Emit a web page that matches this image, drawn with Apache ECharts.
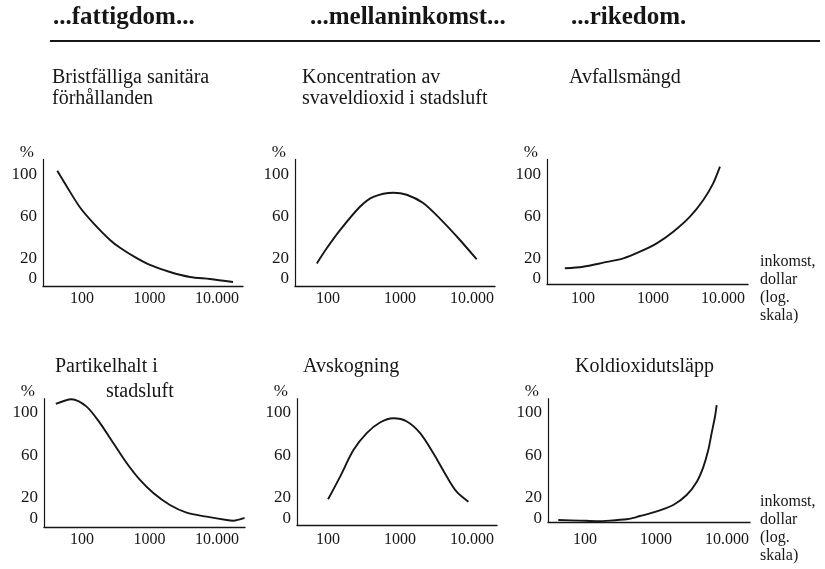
<!DOCTYPE html>
<html><head><meta charset="utf-8">
<script src="https://cdn.jsdelivr.net/npm/echarts@6/dist/echarts.min.js"></script>
<style>html,body{margin:0;padding:0;background:#fff}#c{width:825px;height:569px}</style>
</head><body><div id="c"></div>
<script>
// ---- text ----
const headers = ['...fattigdom...', '...mellaninkomst...', '...rikedom.'];
const panelTitles = ['Bristfälliga sanitära\nförhållanden', 'Koncentration av\nsvaveldioxid i stadsluft', 'Avfallsmängd', 'Partikelhalt i', 'Avskogning', 'Koldioxidutsläpp'];
const panelTitleExtra = 'stadsluft';
const axisNote = 'inkomst,\ndollar\n(log.\nskala)';
const yTickValues = [0, 20, 60, 100];
const xTickLabels = {100: '100', 1000: '1000', 10000: '10.000'};
const yAxisName = '%';

// ---- data (income in dollars, log scale; share in %) ----
const incomeSanitation = [43, 60, 93, 146, 260, 366, 610, 1015, 2010, 3980, 7870, 17300];
const sanitation = [104, 88.5, 69, 54, 37.5, 30, 21, 13.5, 6.7, 1.9, 0, -2.9];

const incomeSulfur = [70, 96, 147, 278, 427, 807, 1240, 2100, 3590, 6810, 11600];
const sulfur = [15, 29.5, 47, 69.5, 79, 83, 81, 73, 58, 37.5, 19];

const incomeWaste = [55, 100, 195, 377, 652, 1130, 1950, 3380, 5240, 7250, 9060];
const waste = [10.3, 11.8, 15.7, 19.9, 26.3, 34.3, 45.5, 60, 76, 92, 108];

const incomeParticles = [41, 70, 117, 185, 291, 459, 724, 1140, 2010, 3550, 7000, 13900, 17400, 25600];
const particles = [108.5, 113, 106, 90.5, 71.7, 52.8, 36.8, 24.5, 13.2, 6, 2.2, -1, -1.6, 1];

const incomeDeforest = [100, 147, 225, 344, 526, 807, 1240, 1900, 2900, 4450, 6100, 8900];
const deforest = [18.6, 40, 65, 81, 91, 95, 92, 81, 62, 40, 25.8, 16.3];

const incomeCO2 = [42, 85, 146, 225, 386, 480, 595, 780, 1025, 1750, 2700, 3740, 4640, 5450, 6080, 6770, 7160];
const co2 = [-1, -1.5, -2, -1.5, -0.3, 1.0, 2.8, 4.8, 7.2, 13.2, 22.6, 35, 49, 65, 81, 96.5, 107.5];

// ---- layout ----
const FONT = '"Liberation Serif", "DejaVu Serif", serif';
const INK = '#161616';
const rows = [
  {zeroY: 279, ppu: 1.04, ymax: 115},
  {zeroY: 519, ppu: 1.06, ymax: 113.5}
];
const panels = [
  {xs: incomeSanitation, ys: sanitation, row: 0, left: 43, width: 200, xmin: 26.4, xmax: 24300, ymin: -7, lm: 5},
  {xs: incomeSulfur, ys: sulfur, row: 0, left: 295, width: 200, xmin: 34.8, xmax: 20900, ymin: -7, lm: 5},
  {xs: incomeWaste, ys: waste, row: 0, left: 547, width: 201, xmin: 30.6, xmax: 22800, ymin: -5, lm: 7},
  {xs: incomeParticles, ys: particles, row: 1, left: 44, width: 201, xmin: 27.4, xmax: 26000, ymin: -7.5, lm: 5},
  {xs: incomeDeforest, ys: deforest, row: 1, left: 297, width: 200, xmin: 37, xmax: 22200, ymin: -6, lm: 6},
  {xs: incomeCO2, ys: co2, row: 1, left: 548, width: 202, xmin: 30.1, xmax: 21100, ymin: -3, lm: 10}
];

const grid = [], xAxis = [], yAxis = [], series = [];
panels.forEach((p, i) => {
  const r = rows[p.row];
  const top = r.zeroY - r.ppu * r.ymax;
  const height = r.ppu * (r.ymax - p.ymin);
  grid.push({left: p.left, top: top, width: p.width, height: height, containLabel: false, outerBoundsMode: 'none'});
  xAxis.push({
    type: 'log', logBase: 10, gridIndex: i, min: p.xmin, max: p.xmax,
    axisLine: {onZero: false, lineStyle: {color: INK, width: 1.4}},
    axisTick: {show: false}, splitLine: {show: false}, minorTick: {show: false},
    axisLabel: {
      color: INK, fontFamily: FONT, fontSize: 16, margin: p.lm,
      formatter: v => xTickLabels[Math.round(v)] || ''
    }
  });
  yAxis.push({
    type: 'value', gridIndex: i, min: p.ymin, max: r.ymax,
    name: yAxisName, nameLocation: 'end', nameGap: 7,
    nameTextStyle: {color: INK, fontFamily: FONT, fontSize: 17, align: 'right', verticalAlign: 'middle', padding: [0, 9, 0, 0]},
    axisLine: {show: true, onZero: false, lineStyle: {color: INK, width: 1.2}},
    axisTick: {show: false}, splitLine: {show: false},
    axisLabel: {customValues: yTickValues, color: INK, fontFamily: FONT, fontSize: 17, margin: 6}
  });
  series.push({
    type: 'line', xAxisIndex: i, yAxisIndex: i, smooth: 0.3, symbol: 'none', clip: false,
    lineStyle: {color: INK, width: 1.9},
    data: p.xs.map((x, k) => [x, p.ys[k]])
  });
});

const titleStyle = {fontFamily: FONT, fontSize: 20, fontWeight: 'normal', color: INK, lineHeight: 21};
const headStyle = {fontFamily: FONT, fontSize: 25, fontWeight: 'bold', color: INK};
const noteStyle = {fontFamily: FONT, fontSize: 16, fontWeight: 'normal', color: INK, lineHeight: 18};
const title = [
  {text: headers[0], left: 53, top: 5, padding: 0, textStyle: headStyle},
  {text: headers[1], left: 310, top: 5, padding: 0, textStyle: headStyle},
  {text: headers[2], left: 571, top: 5, padding: 0, textStyle: headStyle},
  {text: panelTitles[0], left: 52, top: 67, padding: 0, textStyle: titleStyle},
  {text: panelTitles[1], left: 302, top: 67, padding: 0, textStyle: titleStyle},
  {text: panelTitles[2], left: 569, top: 67, padding: 0, textStyle: titleStyle},
  {text: panelTitles[3], left: 55, top: 356, padding: 0, textStyle: titleStyle},
  {text: panelTitleExtra, left: 106, top: 381, padding: 0, textStyle: titleStyle},
  {text: panelTitles[4], left: 303, top: 356, padding: 0, textStyle: titleStyle},
  {text: panelTitles[5], left: 575, top: 356, padding: 0, textStyle: titleStyle},
  {text: axisNote, left: 760, top: 253, padding: 0, textStyle: noteStyle},
  {text: axisNote, left: 760, top: 493, padding: 0, textStyle: noteStyle}
];

const chart = echarts.init(document.getElementById('c'), null, {renderer: 'canvas'});
chart.setOption({
  backgroundColor: '#fff',
  animation: false,
  title: title,
  grid: grid, xAxis: xAxis, yAxis: yAxis, series: series,
  graphic: [{type: 'line', shape: {x1: 50, y1: 41, x2: 820, y2: 41}, style: {stroke: INK, lineWidth: 2}}]
});
</script></body></html>
